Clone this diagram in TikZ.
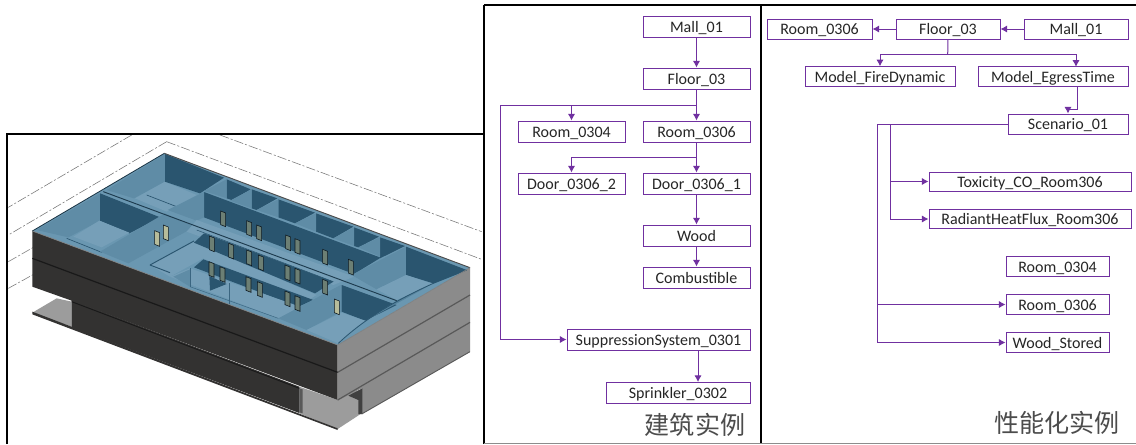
\documentclass[tikz,border=0pt]{standalone}
\usepackage{fontspec}
\setmainfont{Carlito}
\newfontfamily\cjk{Noto Sans CJK SC}
\usetikzlibrary{arrows.meta}
\definecolor{pur}{HTML}{7030A0}
\definecolor{wdark}{HTML}{2A556F}
\definecolor{wmid}{HTML}{5F8CA6}
\definecolor{wbase}{HTML}{6A97B1}
\definecolor{wlight}{HTML}{769FB8}
\definecolor{facade}{HTML}{333231}
\definecolor{sidegray}{HTML}{8B8B8B}
\definecolor{slab}{HTML}{9C9C9C}
\definecolor{doorc}{HTML}{6C7F74}
\definecolor{doorp}{HTML}{B7BC9A}
\tikzset{
  ibox/.style 2 args={draw=pur,line width=0.75pt,fill=white,minimum width=#1*0.75pt,minimum height=#2*0.75pt,inner sep=0pt,font=\fontsize{12pt}{14pt}\selectfont,text=black!85,text height=8.8pt,text depth=0pt},
  conn/.style={draw=pur,line width=0.75pt,-{Latex[length=5pt,width=5.5pt]}},
  plain/.style={draw=pur,line width=0.75pt},
  frameline/.style={draw=black,line width=1.6pt},
  captext/.style={font=\cjk\fontsize{18.8pt}{20pt}\selectfont,text=black!70,inner sep=0pt},
  site/.style={draw=black!55,line width=0.4pt,dash pattern=on 7pt off 1.5pt on 1.5pt off 1.5pt},
  edgeline/.style={draw=wdark,line width=0.5pt},
  faint/.style={draw=wdark!70!wmid,line width=0.35pt}
}
\newcommand{\doorat}[3][doorc]{%
  \fill[#1,draw=black!70!wdark,line width=0.45pt] (#2,#3) -- ++(15,6) -- ++(0,41) -- ++(-15,-6) -- cycle;}
\begin{document}
\begin{tikzpicture}[x=0.75pt,y=-0.75pt]
\useasboundingbox (0,0) rectangle (1136,444);
\fill[white] (0,0) rectangle (1136,444);
% --- building, drawn directly
\begin{scope}[x=0.25pt,y=-0.25pt,shift={(0pt,-97.5pt)}]
  % site lines
  \draw[site] (500,35) -- (1445,388);
  \draw[site] (660,15) -- (1445,305);
  \draw[site] (500,35) -- (25,315);
  \draw[site] (395,15) -- (25,232);
  \draw[site] (25,395) -- (200,295);
  \draw[site] (25,475) -- (110,428);
  % lower slab and lower storey
  \fill[slab] (97,548) -- (170,505) -- (215,515) -- (215,590) -- cycle;
  \fill[slab] (898,770) -- (1013,810) -- (1060,785) -- (1085,780) -- (1085,850) -- (1013,897) -- (898,850) -- cycle;
  \fill[facade] (215,510) -- (898,770) -- (898,849) -- (215,592) -- cycle;
  \fill[facade] (97,545) -- (1013,895) -- (1013,900) -- (97,553) -- cycle;
  \fill[black!65] (898,775) -- (908,778) -- (908,850) -- (898,847) -- cycle;
  % facades
  \fill[facade] (97,303) -- (1013,645) -- (1013,810) -- (215,512) -- (97,470) -- cycle;
  \fill[sidegray] (1013,645) -- (1410,413) -- (1410,665) -- (1085,852) -- (1085,775) -- (1013,812) -- cycle;
  \fill[black!75] (1045,797) -- (1087,775) -- (1087,852) -- (1075,852) -- (1075,810) -- cycle;
  \draw[black!90,line width=0.9pt] (97,385) -- (1013,727);
  \draw[black!90,line width=0.7pt] (215,515) -- (898,775);
  \draw[black!65,line width=0.9pt] (1013,727) -- (1410,495);
  \draw[black!65,line width=0.9pt] (1013,810) -- (1410,577);
  \draw[black!65,line width=0.7pt] (1085,852) -- (1410,665);
  % roof opening
  \fill[wbase] (493,70) -- (97,303) -- (1013,645) -- (1410,413) -- cycle;
  % top corner room
  \fill[wmid] (495,72) -- (495,155) -- (402,205) -- (320,180) -- cycle;
  \fill[wlight] (495,155) -- (590,195) -- (500,245) -- (405,205) -- cycle;
  \fill[wdark] (495,72) -- (672,143) -- (600,190) -- (495,155) -- cycle;
  \draw[edgeline] (440,195) -- (530,230);
  % back row of cells
  \fill[wdark] (680,148) -- (752,178) -- (695,210) -- (680,205) -- cycle;
  \fill[wmid] (680,148) -- (680,205) -- (612,183) -- cycle;
  \fill[wdark] (755,178) -- (832,205) -- (770,240) -- (755,235) -- cycle;
  \fill[wmid] (755,178) -- (755,235) -- (690,212) -- cycle;
  \fill[wdark] (835,208) -- (945,248) -- (885,280) -- (835,262) -- cycle;
  \fill[wmid] (835,208) -- (835,262) -- (770,240) -- cycle;
  \fill[wdark] (948,250) -- (1060,290) -- (1000,325) -- (948,305) -- cycle;
  \fill[wmid] (948,250) -- (948,305) -- (885,280) -- cycle;
  \fill[wdark] (1062,292) -- (1137,320) -- (1075,352) -- (1062,348) -- cycle;
  \fill[wmid] (1062,292) -- (1062,348) -- (1000,325) -- cycle;
  \fill[wdark] (1140,322) -- (1215,348) -- (1140,385) -- cycle;
  \fill[wmid] (1140,322) -- (1140,380) -- (1075,352) -- cycle;
  % long central wall
  \fill[wdark] (612,186) -- (1142,383) -- (1062,432) -- (612,262) -- cycle;
  \fill[wmid] (612,186) -- (612,262) -- (590,272) -- (503,240) -- cycle;
  % left room
  \fill[wmid] (300,190) -- (300,272) -- (205,322) -- (110,300) -- cycle;
  \fill[wdark] (300,190) -- (480,262) -- (388,310) -- (300,272) -- cycle;
  \fill[wlight] (298,272) -- (388,308) -- (305,352) -- (220,320) -- cycle;
  \draw[edgeline] (200,325) -- (305,367);
  % partition with two doors
  \fill[wmid] (495,250) -- (585,290) -- (385,400) -- (300,365) -- cycle;
  % corridors
  \fill[wlight] (590,270) -- (1062,440) -- (1000,465) -- (560,305) -- cycle;
  \fill[wlight] (450,405) -- (582,335) -- (950,495) -- (900,525) -- (610,385) -- (510,440) -- cycle;
  \draw[edgeline,line width=0.7pt] (450,405) -- (582,333);
  \draw[edgeline,line width=0.7pt] (450,405) -- (510,428);
  \fill[wdark] (582,338) -- (612,310) -- (1000,455) -- (945,490) -- cycle;
  \fill[wdark] (582,412) -- (610,388) -- (940,510) -- (895,530) -- cycle;
  % small front room
  \fill[wlight] (510,440) -- (570,415) -- (915,535) -- (835,565) -- cycle;
  \fill[wmid] (520,440) -- (570,418) -- (570,470) -- cycle;
  \fill[wdark] (628,438) -- (680,462) -- (630,482) -- cycle;
  \draw[faint] (570,415) -- (570,470);
  \draw[faint] (688,460) -- (688,522);
  \draw[faint] (570,470) -- (835,565);
  % right rooms
  \fill[wmid] (1218,350) -- (1218,435) -- (1130,478) -- (1055,435) -- cycle;
  \fill[wdark] (1218,350) -- (1400,420) -- (1300,460) -- (1218,435) -- cycle;
  \fill[wlight] (1218,435) -- (1300,462) -- (1190,510) -- (1130,478) -- cycle;
  \fill[wmid] (1022,465) -- (1022,545) -- (920,600) -- (835,565) -- cycle;
  \fill[wdark] (1025,465) -- (1190,525) -- (1095,572) -- (1025,545) -- cycle;
  \fill[wlight] (1025,548) -- (1095,572) -- (1015,640) -- (920,600) -- cycle;
  \fill[wmid!80!wdark] (1190,512) -- (1300,460) -- (1100,570) -- cycle;
  \draw[wdark,line width=0.6pt] (1400,420) -- (1300,460) .. controls (1200,505) and (1100,560) .. (1015,640);
  % beam lines
  \draw[black!30!wdark,line width=0.7pt] (310,185) -- (1190,512);
  \draw[wdark,line width=0.4pt] (590,300) -- (1000,455);
  % doors
  \doorat{662}{243}\doorat{740}{272}\doorat{770}{285}\doorat{857}{315}\doorat{885}{326}\doorat{968}{358}\doorat{1045}{388}
  \doorat{628}{318}\doorat{686}{340}\doorat{740}{360}\doorat{775}{375}\doorat{855}{405}\doorat{885}{415}\doorat{968}{448}
  \doorat{627}{395}\doorat{660}{410}\doorat{738}{440}\doorat{772}{455}\doorat{855}{483}\doorat{885}{497}
  \doorat[doorp]{464}{302}\doorat[doorp]{490}{285}\doorat[doorp]{1003}{507}
  % roof outline
  \draw[wdark!60!black,line width=0.6pt] (493,70) -- (97,303);
  \draw[black!70,line width=0.7pt] (493,70) -- (1410,413);
  \draw[black!50,line width=0.5pt] (97,303) -- (1013,645) -- (1410,413);
\end{scope}
% --- panel frames
\draw[frameline] (7,444) -- (7,134) -- (484,134);
\draw[frameline] (484,444) -- (484,134);
\draw[draw=black,line width=1pt] (484,134) -- (484,5);
\draw[frameline] (484,5) -- (1136,5);
\draw[frameline] (761,5) -- (761,444);
\draw[draw=black!45,line width=0.8pt] (484,443.3) -- (1136,443.3);
% --- middle panel
\node[ibox={107}{21}] (m1) at (696.5,26.5) {Mall\_01};
\node[ibox={107}{21}] (f1) at (696.5,78.5) {Floor\_03};
\node[ibox={107}{21}] (r4) at (571.5,131.5) {Room\_0304};
\node[ibox={107}{21}] (r6) at (696.5,131.5) {Room\_0306};
\node[ibox={107}{21}] (d2) at (571.5,183.5) {Door\_0306\_2};
\node[ibox={107}{21}] (d1) at (696.5,183.5) {Door\_0306\_1};
\node[ibox={107}{21}] (wd) at (696.5,235.5) {Wood};
\node[ibox={107}{21}] (cb) at (696.5,277.5) {Combustible};
\node[ibox={183}{21}] (ss) at (658.5,339.5) {SuppressionSystem\_0301};
\node[ibox={144}{21}] (sp) at (678,392.5) {Sprinkler\_0302};
\node[captext,anchor=center] (cap1) at (695,425) {建筑实例};
\coordinate (busA) at (696.5,105);
\coordinate (busB) at (696.5,157);
\coordinate (busL) at (500.7,105);
\coordinate (spTop) at (698,382);
\draw[conn] (m1) -- (f1);
\draw[plain] (f1.south) -- (busA);
\draw[conn] (busA) -- (r6.north);
\draw[conn] (busA) -| (r4.north);
\draw[conn] (busA) -- (busL) |- (ss.west);
\draw[plain] (r6.south) -- (busB);
\draw[conn] (busB) -- (d1.north);
\draw[conn] (busB) -| (d2.north);
\draw[conn] (d1) -- (wd);
\draw[conn] (wd) -- (cb);
\draw[conn] (ss.south -| spTop) -- (spTop);
% --- right panel
\node[ibox={105}{20}] (rr) at (819.5,29) {Room\_0306};
\node[ibox={104}{20}] (ff) at (948,29) {Floor\_03};
\node[ibox={104}{20}] (mm) at (1076,29) {Mall\_01};
\node[ibox={150}{19.5}] (fd) at (880,76.5) {Model\_FireDynamic};
\node[ibox={150}{19.5}] (eg) at (1053,76.5) {Model\_EgressTime};
\node[ibox={120}{20}] (sc) at (1068,124) {Scenario\_01};
\node[ibox={202}{19}] (tx) at (1030,181.5) {Toxicity\_CO\_Room306};
\node[ibox={202}{19}] (rh) at (1030,219) {RadiantHeatFlux\_Room306};
\node[ibox={103}{19.5}] (r4b) at (1057.5,266.5) {Room\_0304};
\node[ibox={103}{19.5}] (r6b) at (1057.5,304.5) {Room\_0306};
\node[ibox={103}{19.5}] (ws) at (1057.5,342.5) {Wood\_Stored};
\node[captext,anchor=center] (cap2) at (1057,423) {性能化实例};
\coordinate (busC) at (947.7,54.5);
\coordinate (egIn) at (1076,66.75);
\coordinate (egOut) at (1077.5,109);
\coordinate (v1) at (890,124);
\coordinate (v2) at (877.7,124);
\draw[conn] (ff) -- (rr);
\draw[conn] (mm) -- (ff);
\draw[plain] (ff.south) -- (busC);
\draw[conn] (busC) -| (fd.north);
\draw[conn] (busC) -| (egIn);
\draw[plain] (eg.south -| egOut) -- (egOut);
\draw[conn] (egOut) -| (sc.north);
\draw[plain] (sc.west) -- (v2);
\draw[conn] (v1) |- (tx.west);
\draw[conn] (v1) |- (rh.west);
\draw[conn] (v2) |- (r6b.west);
\draw[conn] (v2) |- (ws.west);
\end{tikzpicture}
\end{document}
